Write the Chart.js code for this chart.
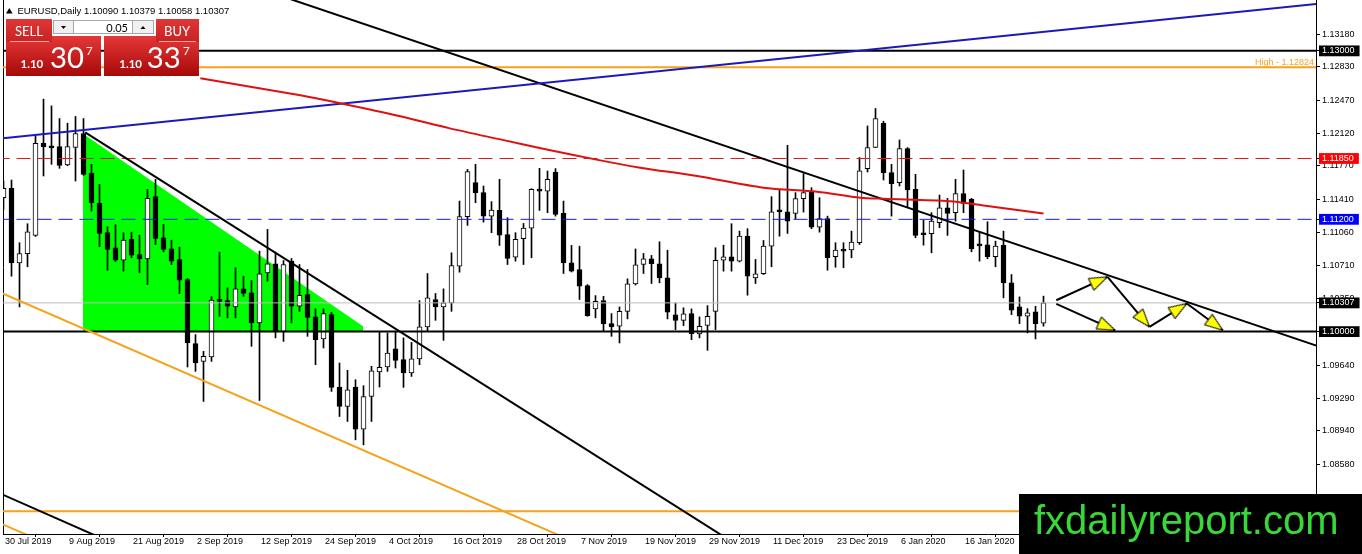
<!DOCTYPE html>
<html><head><meta charset="utf-8">
<script src="https://cdn.jsdelivr.net/npm/chart.js@4.4.0/dist/chart.umd.min.js"></script>
<style>
html,body{margin:0;padding:0;background:#fff;}
#wrap{position:relative;width:1362px;height:554px;overflow:hidden;background:#fff;}
#c{position:absolute;left:0;top:0;}
#ov{position:absolute;left:0;top:0;pointer-events:none;}
</style>
</head><body>
<div id="wrap">
<canvas id="c" width="1362" height="554"></canvas>
<svg id="ov" width="1362" height="554" viewBox="0 0 1362 554" xmlns="http://www.w3.org/2000/svg">
 <defs>
  <linearGradient id="pg" x1="0" y1="0" x2="0" y2="1">
   <stop offset="0" stop-color="#e63838"/><stop offset="1" stop-color="#a60808"/>
  </linearGradient>
  <linearGradient id="bg" x1="0" y1="0" x2="0" y2="1">
   <stop offset="0" stop-color="#e03636"/><stop offset="1" stop-color="#c82222"/>
  </linearGradient>
 </defs>
 <path d="M6 13.5 L9.3 8 L12.6 13.5 Z" fill="#000"/>
 <text x="17.5" y="14" font-family="Liberation Sans" font-size="9.5" fill="#000">EURUSD,Daily 1.10090 1.10379 1.10058 1.10307</text>
 <rect x="6" y="36" width="95" height="40" fill="url(#pg)"/>
 <rect x="104" y="36" width="95" height="40" fill="url(#pg)"/>
 <rect x="6" y="19" width="46" height="23" fill="url(#bg)"/>
 <rect x="156" y="19" width="43" height="23" fill="url(#bg)"/>
 <line x1="10" y1="41.5" x2="49" y2="41.5" stroke="#f2a4a4"/>
 <line x1="159" y1="41.5" x2="196" y2="41.5" stroke="#f2a4a4"/>
 <rect x="53.5" y="20.5" width="100" height="13" fill="#fff" stroke="#a8a8a8"/>
 <rect x="53.5" y="20.5" width="20" height="13" fill="#f0f0f0" stroke="#a8a8a8"/>
 <rect x="132.5" y="20.5" width="21" height="13" fill="#f0f0f0" stroke="#a8a8a8"/>
 <path d="M61 26 L66 26 L63.5 29 Z" fill="#000"/>
 <path d="M140.5 29 L145.5 29 L143 26 Z" fill="#000"/>
 <text x="128" y="32" text-anchor="end" font-family="Lato" font-size="11" fill="#000">0.05</text>
 <text x="15" y="35.5" font-family="Lato" font-size="13" fill="#fff">SELL</text>
 <text x="164" y="35.5" font-family="Lato" font-size="13" fill="#fff">BUY</text>
 <text x="20.5" y="68.3" font-family="Lato" font-weight="bold" font-size="11.5" fill="#fff">1.10</text>
 <text x="50" y="68.3" font-family="Lato" font-size="28" fill="#fff" textLength="34" lengthAdjust="spacingAndGlyphs">30</text>
 <text x="86" y="55" font-family="Lato" font-size="11.5" fill="#fff">7</text>
 <text x="119.3" y="68.3" font-family="Lato" font-weight="bold" font-size="11.5" fill="#fff">1.10</text>
 <text x="146.7" y="68.3" font-family="Lato" font-size="28" fill="#fff" textLength="34" lengthAdjust="spacingAndGlyphs">33</text>
 <text x="183" y="55" font-family="Lato" font-size="11.5" fill="#fff">7</text>
 <rect x="1019" y="494" width="343" height="60" fill="#000"/>
 <text x="1034" y="534" font-family="Liberation Sans" font-size="40" fill="#38d838">fxdailyreport.com</text>
</svg>
</div>
<script>
// ---------- DATA ----------
const opens = [1.11431,1.11531,1.10735,1.10832,1.11028,1.12013,1.11977,1.11977,1.11780,1.11967,
1.12117,1.11692,1.11370,1.11057,1.10896,1.10763,1.10985,1.10824,1.10778,1.11442,
1.11003,1.10885,1.10771,1.10557,1.09872,1.09682,1.09729,1.10335,1.10332,1.10264,
1.10457,1.10414,1.10093,1.10628,1.10725,1.10003,1.10753,1.10271,1.10396,1.10157,
1.09922,1.10182,1.09408,1.09200,1.09408,1.08958,1.09307,1.09569,1.09622,1.09815,
1.09700,1.09558,1.09708,1.10050,1.10343,1.10264,1.10307,1.10699,1.11228,1.11592,
1.11485,1.11234,1.11295,1.11038,1.10795,1.10992,1.11106,1.11520,1.11502,1.11706,
1.11263,1.10735,1.10664,1.10492,1.10243,1.10332,1.10086,1.10057,1.10217,1.10511,
1.10717,1.10778,1.10725,1.10575,1.10179,1.10121,1.10193,1.09975,1.10067,1.10217,
1.10763,1.10800,1.10753,1.11020,1.10575,1.10618,1.10913,1.11295,1.11281,1.11263,
1.11421,1.11491,1.11117,1.11207,1.10800,1.10870,1.10873,1.10950,1.11742,1.11967,
1.12227,1.11699,1.11592,1.11956,1.11520,1.11049,1.11046,1.11164,1.11324,1.11271,
1.11474,1.11413,1.10928,1.10928,1.10800,1.10921,1.10521,1.10264,1.10164,1.10211,
1.10090];
const highs = [1.11609,1.11620,1.10950,1.11153,1.12091,1.12484,1.12412,1.12277,1.12227,1.12299,
1.12277,1.11788,1.11574,1.11121,1.11142,1.11057,1.11063,1.11031,1.11520,1.11627,
1.11146,1.10977,1.10903,1.10567,1.09968,1.09789,1.10375,1.10849,1.10468,1.10682,
1.10592,1.10546,1.10860,1.11092,1.10849,1.10760,1.10781,1.10717,1.10664,1.10243,
1.10243,1.10207,1.09665,1.09586,1.09486,1.09422,1.09629,1.10003,1.09986,1.10003,
1.09933,1.09885,1.10332,1.10621,1.10407,1.10457,1.10842,1.11395,1.11734,1.11788,
1.11556,1.11389,1.11627,1.11217,1.11057,1.11156,1.11527,1.11745,1.11716,1.11742,
1.11395,1.10921,1.10913,1.10503,1.10385,1.10378,1.10193,1.10264,1.10564,1.10883,
1.10835,1.10814,1.10960,1.10870,1.10307,1.10254,1.10243,1.10157,1.10278,1.10896,
1.10924,1.11153,1.11074,1.11100,1.10771,1.10974,1.11442,1.11520,1.11991,1.11485,
1.11688,1.11538,1.11431,1.11234,1.10950,1.10950,1.11074,1.11860,1.12198,1.12384,
1.12248,1.11788,1.12048,1.11967,1.11681,1.11192,1.11271,1.11459,1.11424,1.11627,
1.11727,1.11424,1.11063,1.11174,1.10967,1.11074,1.10610,1.10371,1.10246,1.10271,
1.10379];
const lows = [1.11306,1.10592,1.10264,1.10693,1.11017,1.11663,1.11788,1.11745,1.11772,1.11609,
1.11670,1.11288,1.10907,1.10656,1.10749,1.10646,1.10789,1.10628,1.10503,1.10931,
1.10853,1.10717,1.10407,1.09622,1.09575,1.09254,1.09682,1.10164,1.10147,1.10147,
1.10378,1.09843,1.09264,1.10539,1.09933,1.09896,1.10093,1.10217,1.09950,1.09647,
1.09825,1.09361,1.09093,1.09040,1.08844,1.08790,1.09040,1.09408,1.09575,1.09611,
1.09404,1.09521,1.09647,1.10003,1.10121,1.09907,1.10217,1.10635,1.11135,1.11378,
1.11170,1.11057,1.10921,1.10717,1.10753,1.10717,1.10789,1.11295,1.11271,1.11234,
1.10621,1.10637,1.10343,1.10164,1.10147,1.10003,1.09950,1.09879,1.10136,1.10498,
1.10621,1.10514,1.10521,1.10136,1.10021,1.10064,1.09914,1.09933,1.09800,1.10021,
1.10646,1.10646,1.10744,1.10389,1.10514,1.10610,1.10693,1.11020,1.11049,1.11207,
1.11277,1.11100,1.11063,1.10656,1.10688,1.10682,1.10789,1.10931,1.11706,1.11965,
1.11620,1.11234,1.11556,1.11335,1.11003,1.10924,1.10842,1.11110,1.11028,1.11181,
1.11271,1.10853,1.10753,1.10778,1.10693,1.10361,1.10182,1.10086,1.09986,1.09922,
1.10058];
const closes = [1.11531,1.10735,1.10835,1.11067,1.12013,1.11977,1.11965,1.11777,1.11977,1.12117,
1.11681,1.11378,1.11049,1.10878,1.10763,1.10977,1.10817,1.10778,1.11424,1.10996,
1.10878,1.10753,1.10549,1.09879,1.09665,1.09736,1.10337,1.10324,1.10271,1.10457,
1.10407,1.10093,1.10618,1.10725,1.10003,1.10717,1.10271,1.10389,1.10153,1.09914,
1.10193,1.09404,1.09200,1.09379,1.08958,1.09307,1.09582,1.09618,1.09772,1.09693,
1.09558,1.09708,1.10050,1.10361,1.10264,1.10307,1.10707,1.11228,1.11710,1.11485,
1.11234,1.11299,1.11031,1.10781,1.10985,1.11106,1.11520,1.11502,1.11627,1.11253,
1.10735,1.10646,1.10485,1.10171,1.10324,1.10082,1.10050,1.10217,1.10511,1.10715,
1.10778,1.10725,1.10575,1.10207,1.10121,1.10189,1.09979,1.10057,1.10164,1.10763,
1.10800,1.10753,1.11020,1.10592,1.10618,1.10913,1.11281,1.11281,1.11181,1.11421,
1.11485,1.11117,1.11207,1.10789,1.10870,1.10860,1.10956,1.11718,1.11967,1.12277,
1.11699,1.11581,1.11956,1.11513,1.11028,1.11035,1.11181,1.11324,1.11263,1.11474,
1.11370,1.10885,1.10917,1.10800,1.10913,1.10521,1.10228,1.10164,1.10200,1.10086,
1.10307];

const dateTickIdx = [0,8,16,24,32,40,48,56,64,72,80,88,96,104,112,120,128];
const dateLabels = ['30 Jul 2019','9 Aug 2019','21 Aug 2019','2 Sep 2019','12 Sep 2019','24 Sep 2019',
 '4 Oct 2019','16 Oct 2019','28 Oct 2019','7 Nov 2019','19 Nov 2019','29 Nov 2019','11 Dec 2019',
 '23 Dec 2019','6 Jan 2020','16 Jan 2020','28 Jan 2020'];

const yTickValues = [1.13180,1.12830,1.12470,1.12120,1.11770,1.11410,1.11060,1.10710,1.10350,
 1.09640,1.09290,1.08940,1.08580,1.08230];
const levelValues = [1.13000, 1.11850, 1.11200, 1.10307, 1.10000];
const levelBoxColors = ['#000000', '#ff0000', '#0000ff', '#000000', '#000000'];

const hLineValues = [1.13000, 1.12824, 1.11850, 1.11200, 1.10307, 1.10000, 1.08080];
const hLineColors = ['#000000', '#f5a31a', '#e01818', '#1818e8', '#bdbdbd', '#000000', '#f5a31a'];
const hLineWidths = [2, 2, 1, 1, 1, 2, 2];
const hLineDashed = [false, false, true, true, false, false, false];
const highValue = 1.12824;

const trendX1 = [-1, 10.21, 20, -1, -1, -1];
const trendY1 = [1.12059, 1.12129, 1.14011, 1.08292, 1.10441, 1.07974];
const trendX2 = [165, 100, 165, 15, 80, 12];
const trendY2 = [1.13509, 1.07271, 1.09824, 1.07689, 1.07431, 1.07491];
const trendColors = ['#1a1ab8', '#000000', '#000000', '#000000', '#f5a31a', '#f5a31a'];

const maIdx = [24.6, 37.1, 42.1, 49.6, 55.8, 62.1, 67.9, 74.6, 79.6, 86.7, 95.0, 101.7, 107.1, 110.0, 118.3, 122.5, 130];
const maVal = [1.12707, 1.12525, 1.12440, 1.12301, 1.12172, 1.12054, 1.11947, 1.11830, 1.11752, 1.11662,
 1.11538, 1.11495, 1.11431, 1.11420, 1.11394, 1.11348, 1.11263];

const triX = [9.93, 44.95];
const triY = [1.12115, 1.10057];
const triBase = 1.10000;

const arrowX1 = [131.6, 131.6, 138.0, 143.25, 147.92];
const arrowY1 = [1.10335, 1.10296, 1.10585, 1.10050, 1.10300];
const arrowX2 = [138.0, 138.96, 143.25, 147.92, 152.42];
const arrowY2 = [1.10585, 1.10014, 1.10050, 1.10300, 1.10014];

// ---------- CHART ----------
Chart.defaults.font.family = "'Liberation Sans', Arial, sans-serif";
Chart.defaults.font.size = 9;
Chart.defaults.color = '#000';

const Y_MIN = 1.078375, Y_MAX = 1.135435;
const X_MIN = -0.0625, X_MAX = 164.0625;

function isLevel(v){ return levelValues.some(l => Math.abs(l - v) < 1e-7); }
function levelColor(v){ const i = levelValues.findIndex(l => Math.abs(l - v) < 1e-7); return i >= 0 ? levelBoxColors[i] : 'rgba(0,0,0,0)'; }

function makeArrowHead(){
  const c = document.createElement('canvas'); c.width = 44; c.height = 44;
  const g = c.getContext('2d');
  g.beginPath(); g.moveTo(22, 22); g.lineTo(28.5, 40); g.lineTo(15.5, 40); g.closePath();
  g.fillStyle = '#ffff00'; g.fill(); g.lineWidth = 1; g.strokeStyle = '#000'; g.stroke();
  return c;
}
const arrowHead = makeArrowHead();

const datasets = [];

datasets.push({
  type: 'line', label: 'triangle', data: triX.map((x, i) => ({x, y: triY[i]})),
  borderWidth: 0, pointRadius: 0, backgroundColor: '#00ff00', fill: {value: triBase},
  order: 60, xAxisID: 'x', yAxisID: 'y'
});

datasets.push({
  type: 'bar', label: 'wicks', data: lows.map((l, i) => ({x: i, y: [l, highs[i]]})),
  backgroundColor: '#000', borderWidth: 0, barThickness: 1, grouped: false,
  order: 50, xAxisID: 'x', yAxisID: 'y'
});

datasets.push({
  type: 'bar', label: 'bodies', data: opens.map((o, i) => ({x: i, y: [o, closes[i]]})),
  backgroundColor: opens.map((o, i) => closes[i] >= o ? '#ffffff' : '#000000'),
  borderColor: '#000', borderWidth: 1, borderSkipped: false, barThickness: 5, minBarLength: 2,
  grouped: false, order: 40, xAxisID: 'x', yAxisID: 'y'
});

hLineValues.forEach((v, i) => {
  datasets.push({
    type: 'line', label: 'h' + i, data: [{x: -1, y: v}, {x: 170, y: v}],
    borderColor: hLineColors[i], borderWidth: hLineWidths[i], borderDash: hLineDashed[i] ? [14, 7] : [],
    pointRadius: 0, fill: false, order: 20, xAxisID: 'x', yAxisID: 'y'
  });
});

trendX1.forEach((x, i) => {
  datasets.push({
    type: 'line', label: 't' + i, data: [{x, y: trendY1[i]}, {x: trendX2[i], y: trendY2[i]}],
    borderColor: trendColors[i], borderWidth: 2, pointRadius: 0, fill: false,
    order: 15, xAxisID: 'x', yAxisID: 'y'
  });
});

datasets.push({
  type: 'line', label: 'ma', data: maIdx.map((x, i) => ({x, y: maVal[i]})),
  borderColor: '#e01010', borderWidth: 2, pointRadius: 0, fill: false, tension: 0.3,
  order: 12, xAxisID: 'x', yAxisID: 'y'
});

arrowX1.forEach((x, i) => {
  datasets.push({
    type: 'line', label: 'a' + i,
    data: [{x, y: arrowY1[i]}, {x: arrowX2[i], y: arrowY2[i]}, {x: arrowX2[i], y: null}],
    borderColor: '#000', borderWidth: 2, fill: false, spanGaps: false,
    pointStyle: arrowHead,
    pointRadius: (ctx) => ctx.dataIndex === 1 ? 5 : 0,
    pointBorderWidth: 0,
    rotation: (ctx) => {
      const d = ctx.dataset.data, xs = ctx.chart.scales.x, ys = ctx.chart.scales.y;
      const dx = xs.getPixelForValue(d[1].x) - xs.getPixelForValue(d[0].x);
      const dy = ys.getPixelForValue(d[1].y) - ys.getPixelForValue(d[0].y);
      return Math.atan2(dx, -dy) * 180 / Math.PI;
    },
    order: 5, xAxisID: 'x', yAxisID: 'y'
  });
});

const highLabelPlugin = {
  id: 'highLabel',
  afterDatasetsDraw(chart){
    const {ctx, chartArea, scales} = chart;
    ctx.save();
    ctx.font = "9px 'Liberation Sans'";
    ctx.fillStyle = '#f5a31a';
    ctx.textAlign = 'right';
    ctx.textBaseline = 'alphabetic';
    ctx.fillText('High - ' + highValue.toFixed(5), chartArea.right - 2, scales.y.getPixelForValue(highValue) - 2.5);
    ctx.restore();
  }
};

new Chart(document.getElementById('c'), {
  type: 'line',
  data: { datasets },
  plugins: [highLabelPlugin],
  options: {
    responsive: false, animation: false, devicePixelRatio: 1,
    layout: { padding: 0 },
    plugins: { legend: {display: false}, tooltip: {enabled: false} },
    scales: {
      x: {
        type: 'linear', position: 'bottom', min: X_MIN, max: X_MAX, offset: false,
        afterBuildTicks: s => { s.ticks = dateTickIdx.map(v => ({value: v})); },
        ticks: { autoSkip: false, maxRotation: 0, minRotation: 0, align: 'start', padding: -1, labelOffset: 1.5,
          callback: (v, i) => dateLabels[i], font: {size: 9} },
        grid: { drawOnChartArea: false, drawTicks: true, tickLength: 3, color: '#000' },
        border: { display: true, color: '#000', width: 1 },
        afterFit: s => { s.height = 20; s.paddingLeft = 0; s.paddingRight = 0; }
      },
      y: {
        type: 'linear', position: 'right', min: Y_MIN, max: Y_MAX,
        afterBuildTicks: s => { s.ticks = yTickValues.concat(levelValues).map(v => ({value: v})); },
        ticks: {
          autoSkip: false, padding: 2, font: {size: 9},
          callback: v => Number(v).toFixed(5),
          color: c => isLevel(c.tick.value) ? '#ffffff' : '#000000',
          showLabelBackdrop: c => isLevel(c.tick.value),
          backdropColor: c => levelColor(c.tick.value),
          backdropPadding: {left: 3, right: 5, top: 0, bottom: 0}
        },
        grid: { drawOnChartArea: false, drawTicks: true, tickLength: 4, color: '#000' },
        border: { display: true, color: '#000', width: 1 },
        afterFit: s => { s.width = 46; s.paddingTop = 0; s.paddingBottom = 0; }
      },
      yl: {
        type: 'linear', position: 'left', min: Y_MIN, max: Y_MAX,
        ticks: { display: false },
        grid: { display: false },
        border: { display: true, color: '#000', width: 1 },
        afterFit: s => { s.width = 3; s.paddingTop = 0; s.paddingBottom = 0; }
      }
    }
  }
});
</script>
</body></html>
